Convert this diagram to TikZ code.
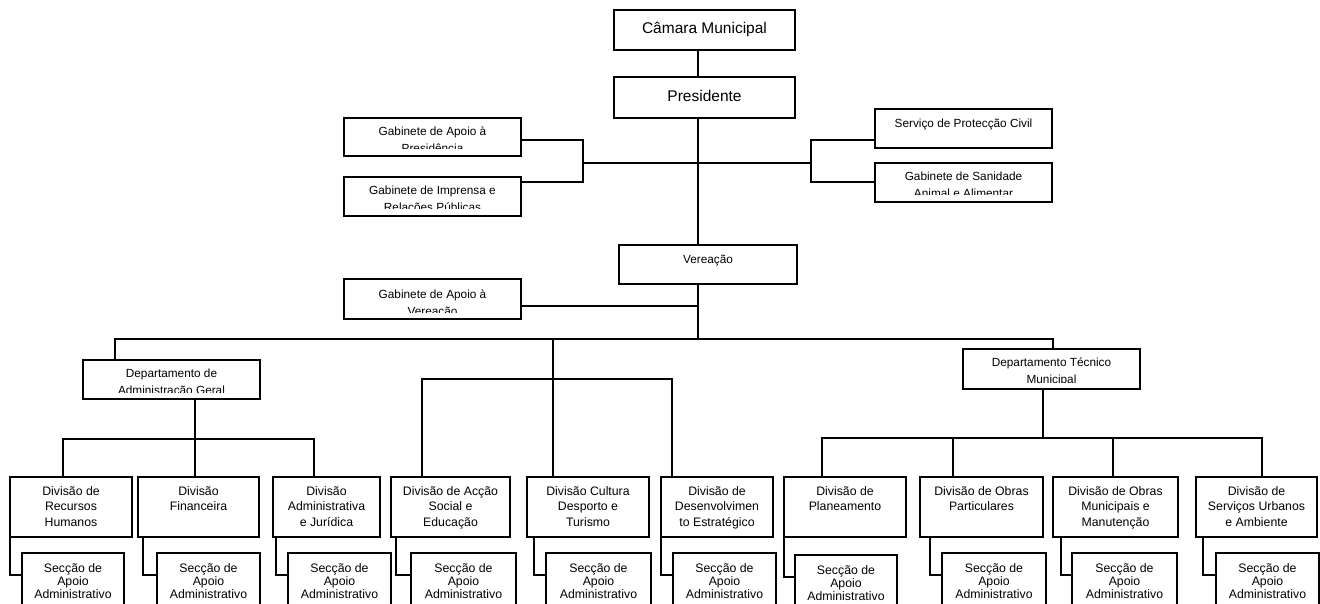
\documentclass[tikz,border=0pt]{standalone}
\usepackage{fontspec}
\setmainfont{Liberation Sans}
\usetikzlibrary{fit}
\newcommand\mlines[1]{\begin{tabular}[t]{@{}c@{}}#1\end{tabular}}
% #1 name, #2 x1, #3 y1, #4 x2, #5 y2, #6 text style, #7 baseline offset, #8 text
\newcommand\obox[8]{%
  \begin{scope}
    \clip (#2,#3) rectangle (#4,{#5-7});
    \node[#6, anchor=base] at ({(#2+#4)/2},{#3+#7}) {\mlines{#8}};
  \end{scope}
  \node[boxs, fit={(#2,#3) (#4,#5)}] (#1) {};
}
\tikzset{
  boxs/.style={draw=black, line width=1.2pt, inner sep=0pt},
  bigtxt/.style={inner sep=0pt, font=\fontsize{15.5}{18}\selectfont},
  smtxt/.style={inner sep=0pt, font=\fontsize{11.8}{17}\selectfont},
  divtxt/.style={inner sep=0pt, font=\fontsize{12.3}{15.5}\selectfont},
  sectxt/.style={inner sep=0pt, font=\fontsize{12.3}{13}\selectfont},
  ln/.style={draw=black, line width=1.2pt},
}
\begin{document}
\begin{tikzpicture}[x=1pt, y=-1pt]
\useasboundingbox (0,0) rectangle (1320,604);
\clip (0,0) rectangle (1320,604);

% top boxes
\obox{cam}{614}{10}{795}{50}{bigtxt}{23.5}{Câmara Municipal}
\obox{pres}{614}{77}{795}{118}{bigtxt}{24.5}{Presidente}
\obox{gap}{344}{118}{521}{156}{smtxt}{18}{Gabinete de Apoio à\\Presidência}
\obox{girp}{344}{177}{521}{216}{smtxt}{18}{Gabinete de Imprensa e\\Relações Públicas}
\obox{spc}{875}{109}{1052}{148}{smtxt}{19}{Serviço de Protecção Civil}
\obox{gsaa}{875}{163}{1052}{202}{smtxt}{18}{Gabinete de Sanidade\\Animal e Alimentar}
\obox{ver}{619}{245}{797}{284}{smtxt}{18}{Vereação}
\obox{gav}{344}{279}{521}{319}{smtxt}{19.5}{Gabinete de Apoio à\\Vereação}
\obox{dag}{83}{360}{260}{399}{smtxt}{17.5}{Departamento de\\Administração Geral}
\obox{dtm}{963}{349}{1140}{389}{smtxt}{17.5}{Departamento Técnico\\Municipal}

% divisions
\obox{rh}{10}{477}{132}{537}{divtxt}{18}{Divisão de\\Recursos\\Humanos}
\obox{fin}{138}{477}{259}{537}{divtxt}{18}{Divisão\\Financeira}
\obox{adm}{273}{477}{380}{537}{divtxt}{18}{Divisão\\Administrativa\\e Jurídica}
\obox{aca}{391}{477}{510}{537}{divtxt}{18}{Divisão de Acção\\Social e\\Educação}
\obox{cul}{527}{477}{649}{537}{divtxt}{18}{Divisão Cultura\\Desporto e\\Turismo}
\obox{des}{661}{477}{773}{537}{divtxt}{18}{Divisão de\\Desenvolvimen\\to Estratégico}
\obox{pla}{784}{477}{906}{537}{divtxt}{18}{Divisão de\\Planeamento}
\obox{opa}{920}{477}{1043}{537}{divtxt}{18}{Divisão de Obras\\Particulares}
\obox{omu}{1053}{477}{1178}{537}{divtxt}{18}{Divisão de Obras\\Municipais e\\Manutenção}
\obox{sur}{1196}{477}{1317}{537}{divtxt}{18}{Divisão de\\Serviços Urbanos\\e Ambiente}

% seccoes
\obox{s1}{22}{553}{124}{625}{sectxt}{19}{Secção de\\Apoio\\Administrativo}
\obox{s2}{157}{553}{260}{625}{sectxt}{19}{Secção de\\Apoio\\Administrativo}
\obox{s3}{288}{553}{391}{625}{sectxt}{19}{Secção de\\Apoio\\Administrativo}
\obox{s4}{411}{553}{516}{625}{sectxt}{19}{Secção de\\Apoio\\Administrativo}
\obox{s5}{546}{553}{651}{625}{sectxt}{19}{Secção de\\Apoio\\Administrativo}
\obox{s6}{673}{553}{776}{625}{sectxt}{19}{Secção de\\Apoio\\Administrativo}
\obox{s7}{795}{555}{897}{625}{sectxt}{19}{Secção de\\Apoio\\Administrativo}
\obox{s8}{942}{553}{1046}{625}{sectxt}{19}{Secção de\\Apoio\\Administrativo}
\obox{s9}{1072}{553}{1177}{625}{sectxt}{19}{Secção de\\Apoio\\Administrativo}
\obox{s10}{1216}{553}{1319}{625}{sectxt}{19}{Secção de\\Apoio\\Administrativo}

% junction coordinates
\coordinate (sp) at (698,0);
\coordinate (lb1) at (583,140);
\coordinate (lb2) at (583,182);
\coordinate (lbm) at (583,163);
\coordinate (rb1) at (811,140);
\coordinate (rb2) at (811,182);
\coordinate (rbm) at (811,163);
\coordinate (gvj) at (698,306);
\coordinate (bar) at (698,339);
\coordinate (barL) at (115,339);
\coordinate (barR) at (1053,339);
\coordinate (mid) at (553,339);
\coordinate (mL) at (422,379);
\coordinate (mR) at (672,379);
\coordinate (dC) at (195,439);
\coordinate (dL) at (63,439);
\coordinate (dR) at (314,439);
\coordinate (tC) at (1043,438);
\coordinate (tL) at (822,438);
\coordinate (t2) at (953,438);
\coordinate (t3) at (1113,438);
\coordinate (tR) at (1262,438);

% connectors
\draw[ln] (cam.south -| sp) -- (pres.north -| sp);
\draw[ln] (pres.south -| sp) -- (ver.north -| sp);
\draw[ln] (gap.east |- lb1) -- (lb1) -- (lb2) -- (girp.east |- lb2);
\draw[ln] (lbm) -- (rbm);
\draw[ln] (spc.west |- rb1) -- (rb1) -- (rb2) -- (gsaa.west |- rb2);
\draw[ln] (gav.east |- gvj) -- (gvj);
\draw[ln] (ver.south -| sp) -- (bar);
\draw[ln] (dag.north -| barL) -- (barL) -- (barR) -- (dtm.north -| barR);
\draw[ln] (mid) -- (cul.north -| mid);
\draw[ln] (aca.north -| mL) -- (mL) -- (mR) -- (des.north -| mR);
\draw[ln] (dag.south -| dC) -- (fin.north -| dC);
\draw[ln] (rh.north -| dL) -- (dL) -- (dR) -- (adm.north -| dR);
\draw[ln] (dtm.south -| tC) -- (tC);
\draw[ln] (pla.north -| tL) -- (tL) -- (tR) -- (sur.north -| tR);
\draw[ln] (t2) -- (opa.north -| t2);
\draw[ln] (t3) -- (omu.north -| t3);

% division to seccao connectors
\coordinate (c1) at (10,575);
\coordinate (c2) at (143,575);
\coordinate (c3) at (276,575);
\coordinate (c4) at (396,575);
\coordinate (c5) at (534,575);
\coordinate (c6) at (661,575);
\coordinate (c7) at (784,577);
\coordinate (c8) at (930,575);
\coordinate (c9) at (1061,575);
\coordinate (c10) at (1203,575);
\draw[ln] (rh.south -| c1) |- (s1.west |- c1);
\draw[ln] (fin.south -| c2) |- (s2.west |- c2);
\draw[ln] (adm.south -| c3) |- (s3.west |- c3);
\draw[ln] (aca.south -| c4) |- (s4.west |- c4);
\draw[ln] (cul.south -| c5) |- (s5.west |- c5);
\draw[ln] (des.south -| c6) |- (s6.west |- c6);
\draw[ln] (pla.south -| c7) |- (s7.west |- c7);
\draw[ln] (opa.south -| c8) |- (s8.west |- c8);
\draw[ln] (omu.south -| c9) |- (s9.west |- c9);
\draw[ln] (sur.south -| c10) |- (s10.west |- c10);
\end{tikzpicture}
\end{document}
